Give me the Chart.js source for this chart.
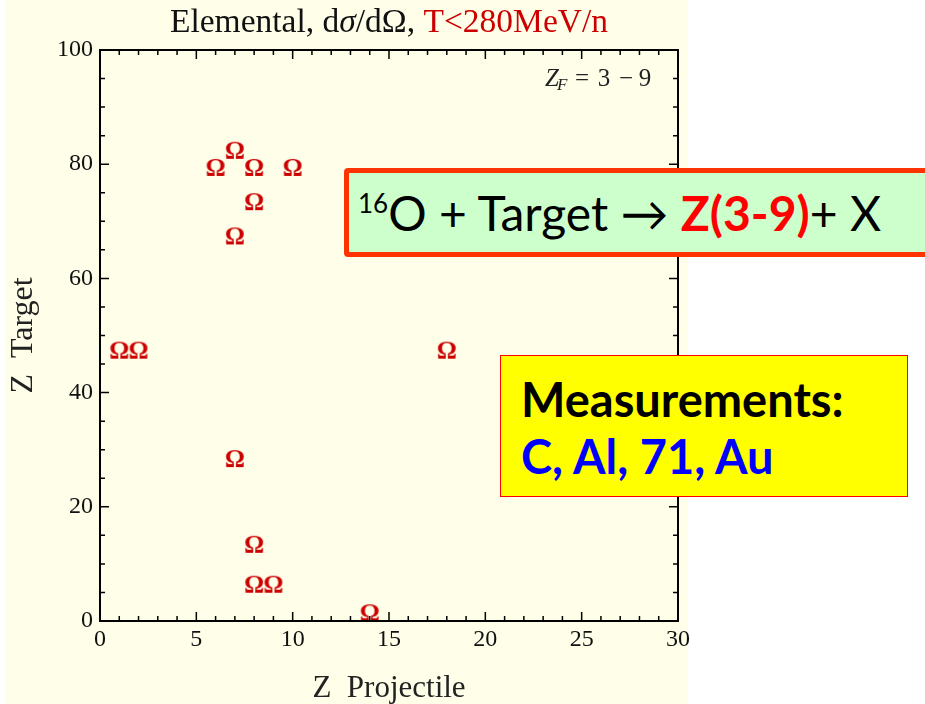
<!DOCTYPE html>
<html>
<head>
<meta charset="utf-8">
<script src="https://cdn.jsdelivr.net/npm/chart.js@4/dist/chart.umd.min.js"></script>
<style>
  body { margin: 0; background: #ffffff; width: 925px; height: 704px; overflow: hidden; position: relative; }
  #paper { position: absolute; left: 5px; top: 0; width: 683px; height: 704px; background: #fefee9; }
  #chart { position: absolute; left: 0; top: 0; }
  .box { position: absolute; box-sizing: border-box; font-family: Lato, "Open Sans", sans-serif; white-space: nowrap; }
  #reaction { left: 344px; top: 168px; width: 600px; height: 89px; background: #ccffcc;
    border: 5px solid #ff3300; border-radius: 4px; font-size: 48px; line-height: 48px;
    padding: 16px 0 0 9px; color: #000; }
  #reaction sup { font-size: 26px; vertical-align: 18px; line-height: 0; }
  #reaction .red { color: #ff0000; font-weight: bold; }
  #meas { left: 500px; top: 355px; width: 408px; height: 142px; background: #ffff00;
    border: 1.5px solid #ff0000; font-size: 47px; font-weight: bold; padding: 15px 0 0 20px; line-height: 57px; }
  #meas .blue { color: #0000ff; }
</style>
</head>
<body>
<div id="paper"></div>
<canvas id="chart" width="925" height="704"></canvas>
<div class="box" id="reaction"><sup>16</sup>O + Target &rarr; <span class="red">Z(3-9)</span>+ X</div>
<div class="box" id="meas">Measurements:<br><span class="blue">C, Al, 71, Au</span></div>

<script>
// #region Data
// ---------------------------------------
const zProjectile = [6, 7, 8, 10, 8, 7, 1, 2, 18, 7, 8, 8, 9, 14];
const zTarget = [79, 82, 79, 79, 73, 67, 47, 47, 47, 28, 13, 6, 6, 1];

const xTickValues = [0, 5, 10, 15, 20, 25, 30];
const yTickValues = [0, 20, 40, 60, 80, 100];

// [text, colour, italic]
const titleParts = [
  ["Elemental, d", "#111", false],
  ["\u03C3", "#111", true],
  ["/d\u03A9, ", "#111", false],
  ["T<280MeV/n", "#cc0000", false],
];
const xTitle = "Z  Projectile";
const yTitle = "Z  Target";
// ---------------------------------------
// #endregion

const serif = "'Liberation Serif', 'DejaVu Serif', serif";

// #region Functions
// ---------------------------------------
const makeOmega = () => {
  const c = document.createElement("canvas");
  c.width = 28;
  c.height = 28;
  const ctx = c.getContext("2d");
  ctx.fillStyle = "#cc0000";
  ctx.font = "bold 25px " + serif;
  ctx.textAlign = "center";
  ctx.textBaseline = "alphabetic";
  ctx.fillText("\u03A9", 14, 20);
  return c;
};

// ticks pointing inwards on all four sides, plus the frame
const framePlugin = {
  id: "frame",
  afterDraw(chart) {
    const { ctx, chartArea: a, scales } = chart;
    const x = scales.x;
    const y = scales.y;
    ctx.save();
    ctx.strokeStyle = "#000";
    ctx.lineWidth = 1.5;
    for (let v = 0; v <= 30; v++) {
      const px = x.getPixelForValue(v);
      const len = v % 5 === 0 ? 9 : 5;
      ctx.beginPath();
      ctx.moveTo(px, a.bottom);
      ctx.lineTo(px, a.bottom - len);
      ctx.moveTo(px, a.top);
      ctx.lineTo(px, a.top + len);
      ctx.stroke();
    }
    for (let v = 0; v <= 100; v += 5) {
      const py = y.getPixelForValue(v);
      const len = v % 20 === 0 ? 9 : 5;
      ctx.beginPath();
      ctx.moveTo(a.left, py);
      ctx.lineTo(a.left + len, py);
      ctx.moveTo(a.right, py);
      ctx.lineTo(a.right - len, py);
      ctx.stroke();
    }
    ctx.lineWidth = 2;
    ctx.strokeRect(a.left, a.top, a.right - a.left, a.bottom - a.top);

    // title in two colours
    ctx.textBaseline = "alphabetic";
    const fontFor = (it) => (it ? "italic " : "") + "33.5px " + serif;
    let total = 0;
    titleParts.forEach(([t, , it]) => {
      ctx.font = fontFor(it);
      total += ctx.measureText(t).width;
    });
    let tx = (a.left + a.right) / 2 - total / 2;
    titleParts.forEach(([t, col, it]) => {
      ctx.font = fontFor(it);
      ctx.fillStyle = col;
      ctx.fillText(t, tx, 32);
      tx += ctx.measureText(t).width;
    });

    // Z_F = 3 - 9 label
    ctx.fillStyle = "#222";
    ctx.font = "italic 25px " + serif;
    ctx.fillText("Z", 545, 86);
    const zw = ctx.measureText("Z").width;
    ctx.font = "italic 17px " + serif;
    ctx.fillText("F", 543 + zw, 90);
    ctx.font = "25px " + serif;
    ctx.textAlign = "center";
    ctx.fillText("=", 582, 86);
    ctx.fillText("3", 604, 86);
    ctx.fillText("\u2212", 626, 86);
    ctx.fillText("9", 645, 86);
    ctx.restore();
  },
};
// ---------------------------------------
// #endregion

new Chart(document.getElementById("chart"), {
  type: "scatter",
  data: {
    datasets: [
      {
        data: zProjectile.map((zp, i) => ({ x: zp, y: zTarget[i] })),
        pointStyle: makeOmega(),
      },
    ],
  },
  options: {
    responsive: false,
    animation: false,
    layout: { padding: { left: 0, right: 247, top: 50, bottom: 0 } },
    plugins: { legend: { display: false }, tooltip: { enabled: false } },
    scales: {
      x: {
        type: "linear",
        min: 0,
        max: 30,
        afterFit: (s) => { s.height = 83; },
        afterBuildTicks: (s) => { s.ticks = xTickValues.map((v) => ({ value: v })); },
        grid: { display: false, drawTicks: false },
        border: { display: false },
        ticks: { color: "#111", padding: 4, maxRotation: 0, font: { family: serif, size: 24 } },
        title: { display: true, text: xTitle, color: "#222", padding: { top: 0, bottom: 0 },
          font: { family: serif, size: 31, lineHeight: 1 } },
      },
      y: {
        type: "linear",
        min: 0,
        max: 100,
        afterFit: (s) => { s.width = 100; },
        afterBuildTicks: (s) => { s.ticks = yTickValues.map((v) => ({ value: v })); },
        grid: { display: false, drawTicks: false },
        border: { display: false },
        ticks: { color: "#111", padding: 7, font: { family: serif, size: 24 } },
        title: { display: true, text: yTitle, color: "#222", padding: { top: 4, bottom: 0 },
          font: { family: serif, size: 32, lineHeight: 1.2 } },
      },
    },
  },
  plugins: [framePlugin],
});
</script>
</body>
</html>
